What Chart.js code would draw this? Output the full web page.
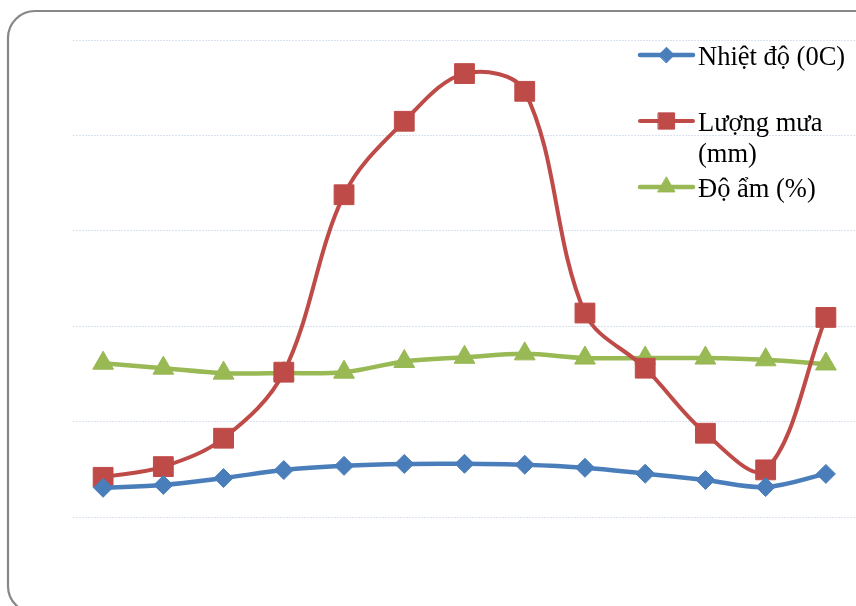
<!DOCTYPE html>
<html lang="vi">
<head>
<meta charset="utf-8">
<title>Nhiệt độ, lượng mưa và độ ẩm</title>
<script src="https://cdn.jsdelivr.net/npm/chart.js@4/dist/chart.umd.min.js"></script>
<style>
  html, body { margin: 0; padding: 0; background: #ffffff; }
  #wrap { width: 856px; height: 606px; position: relative; }
</style>
</head>
<body>
<div id="wrap"><canvas id="chart" width="856" height="606"></canvas></div>
<script>
// Months 1–12 plus the yearly average
const categories = ['T1', 'T2', 'T3', 'T4', 'T5', 'T6', 'T7', 'T8', 'T9', 'T10', 'T11', 'T12', 'TB'];

const seriesNames = ['Nhiệt độ (0C)', 'Lượng mưa (mm)', 'Độ ẩm (%)'];

const temperature = [15.3, 16.8, 20.4, 24.6, 26.8, 27.8, 27.9, 27.4, 25.8, 22.7, 19.4, 15.7, 22.6];
const rainfall    = [20.8, 26.4, 41.3, 75.9, 168.9, 207.4, 232.4, 223.1, 106.9, 78.0, 43.9, 24.7, 104.6];
const humidity    = [80.6, 78.0, 75.4, 75.4, 75.9, 81.5, 83.7, 85.5, 83.3, 83.3, 83.3, 82.4, 80.2];

const yTicks = { min: 0, max: 250, step: 50 };

const COLORS = { blue: '#4a7ebb', red: '#be4b48', green: '#98b954' };

// Rounded frame around the whole chart
const framePlugin = {
  id: 'frame',
  beforeDraw(chart) {
    const ctx = chart.ctx;
    ctx.save();
    ctx.fillStyle = '#ffffff';
    ctx.fillRect(0, 0, chart.width, chart.height);
    const x = 8, y = 11, w = 880, h = 602, r = 27;
    ctx.beginPath();
    ctx.moveTo(x + r, y);
    ctx.lineTo(x + w - r, y);
    ctx.arcTo(x + w, y, x + w, y + r, r);
    ctx.lineTo(x + w, y + h - r);
    ctx.arcTo(x + w, y + h, x + w - r, y + h, r);
    ctx.lineTo(x + r, y + h);
    ctx.arcTo(x, y + h, x, y + h - r, r);
    ctx.lineTo(x, y + r);
    ctx.arcTo(x, y, x + r, y, r);
    ctx.closePath();
    ctx.lineWidth = 2.2;
    ctx.strokeStyle = '#878787';
    ctx.stroke();
    ctx.restore();
  }
};

// Legend on the right, with label wrapping
const sideLegend = {
  id: 'sideLegend',
  afterDraw(chart, args, opts) {
    const ctx = chart.ctx;
    ctx.save();
    ctx.font = opts.fontSize + 'px ' + opts.fontFamily;
    ctx.textBaseline = 'middle';
    ctx.textAlign = 'left';
    const textX = opts.x + opts.lineLen + opts.textGap;
    const maxW = chart.width - textX;
    chart.data.datasets.forEach((ds, i) => {
      const yc = opts.top + i * opts.itemGap;
      // wrap label words into lines
      const words = ds.label.split(' ');
      const lines = [];
      let cur = '';
      words.forEach(wd => {
        const test = cur ? cur + ' ' + wd : wd;
        if (cur && ctx.measureText(test).width > maxW) { lines.push(cur); cur = wd; }
        else cur = test;
      });
      if (cur) lines.push(cur);

      ctx.strokeStyle = ds.borderColor;
      ctx.lineWidth = ds.borderWidth;
      ctx.lineCap = 'round';
      ctx.beginPath();
      ctx.moveTo(opts.x, yc);
      ctx.lineTo(opts.x + opts.lineLen, yc);
      ctx.stroke();

      ctx.fillStyle = ds.pointBackgroundColor;
      ctx.strokeStyle = ds.pointBorderColor;
      ctx.lineWidth = 1;
      Chart.helpers.drawPoint(ctx, {
        pointStyle: ds.pointStyle, radius: ds.pointRadius * opts.markerScale, rotation: 0, borderWidth: 1
      }, opts.x + opts.lineLen / 2, yc);

      ctx.fillStyle = opts.color;
      lines.forEach((ln, k) => ctx.fillText(ln, textX, yc + opts.textShift + k * opts.lineHeight));
    });
    ctx.restore();
  }
};

function series(label, data, color, style, radius, width) {
  return {
    label, data,
    borderColor: color,
    backgroundColor: color,
    borderWidth: width,
    pointStyle: style,
    pointRadius: radius,
    pointHoverRadius: radius,
    pointBackgroundColor: color,
    pointBorderColor: color,
    pointBorderWidth: 1,
    tension: 0.35,
    fill: false,
    clip: false
  };
}

new Chart(document.getElementById('chart'), {
  type: 'line',
  data: {
    labels: categories,
    datasets: [
      series(seriesNames[0], temperature, COLORS.blue, 'rectRot', 9.5, 4.5),
      series(seriesNames[1], rainfall, COLORS.red, 'rect', 14, 4),
      series(seriesNames[2], humidity, COLORS.green, 'triangle', 12, 4.5)
    ]
  },
  options: {
    responsive: false,
    animation: false,
    layout: { autoPadding: false, padding: { left: 73, top: 40, right: 0, bottom: 89 } },
    plugins: {
      legend: { display: false },
      tooltip: { enabled: false },
      sideLegend: {
        x: 640, lineLen: 53, textGap: 5, top: 55, itemGap: 66, lineHeight: 31, textShift: 3,
        markerScale: 0.82,
        fontSize: 26.5, fontFamily: '"Liberation Serif", "Times New Roman", serif', color: '#000000'
      }
    },
    scales: {
      x: {
        display: false,
        offset: true,
        grid: { display: false }
      },
      y: {
        min: yTicks.min,
        max: yTicks.max,
        ticks: { display: false, stepSize: yTicks.step },
        grid: { color: '#d8e1f0', lineWidth: 1, drawTicks: false },
        border: { display: false, dash: [2, 1] },
        afterFit(scale) { scale.width = 0; }
      }
    }
  },
  plugins: [framePlugin, sideLegend]
});
</script>
</body>
</html>
